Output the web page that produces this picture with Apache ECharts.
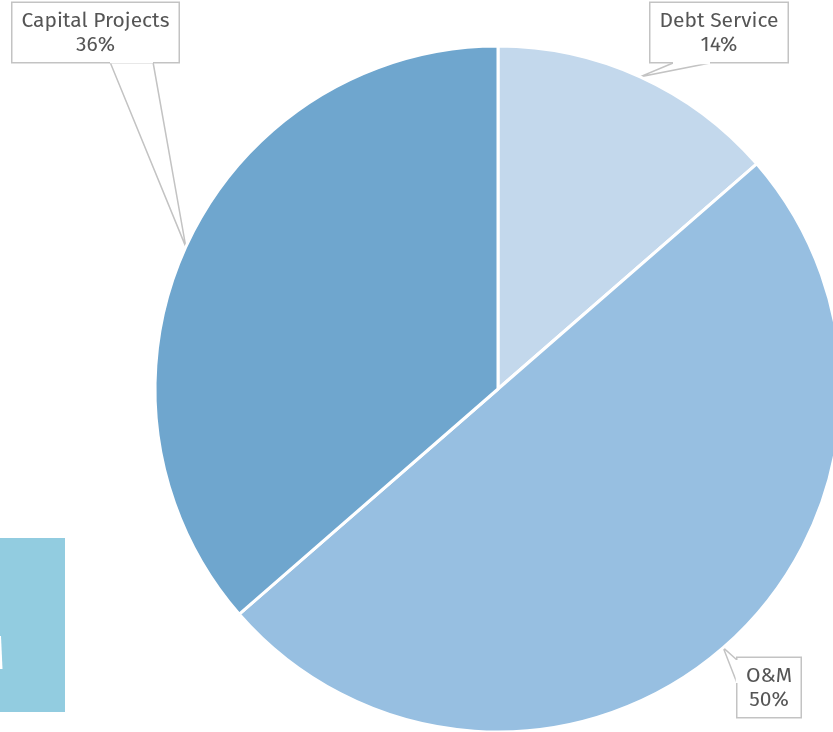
<!DOCTYPE html>
<html>
<head>
<meta charset="utf-8">
<script src="https://cdn.jsdelivr.net/npm/echarts@6/dist/echarts.min.js"></script>
<style>
html,body{margin:0;padding:0;background:#fff;}
#c{width:833px;height:732px;}
</style>
</head>
<body>
<div id="c"></div>
<script>
// ---- data ----
const categories = ['Debt Service', 'O&M', 'Capital Projects'];
const values = [13.6, 50.0, 36.4];
const sliceColors = ['#c3d8ec', '#97bfe1', '#6fa6ce'];

// ---- layout (label boxes: centre x, top y, inner text width; tail base points) ----
const labelBoxes = [
  { x: 719, y: 3, w: 121, bases: [[673, 63], [710, 63]] },
  { x: 769, y: 658, w: 47, bases: [[737, 660], [737, 683]] },
  { x: 95.5, y: 3, w: 150, bases: [[110, 62], [153, 62]] }
];
const CX = 498, CY = 389, R = 343;
const FONT = '"Fira Sans", "Open Sans", "Noto Sans", sans-serif';
const GUIDE = '#c3c3c3';

const chart = echarts.init(document.getElementById('c'), null, { renderer: 'canvas' });

function tipFor(i) {
  const total = values.reduce((a, b) => a + b, 0);
  let before = 0;
  for (let k = 0; k < i; k++) before += values[k];
  const mid = (before + values[i] / 2) / total * Math.PI * 2;
  return [CX + R * Math.sin(mid), CY - R * Math.cos(mid)];
}

const coverLines = labelBoxes.map(b => ({
  type: 'line',
  z: 100,
  shape: { x1: b.bases[0][0], y1: b.bases[0][1], x2: b.bases[1][0], y2: b.bases[1][1] },
  style: { stroke: '#fff', lineWidth: 2.5 }
}));

chart.setOption({
  animation: false,
  graphic: [
    { type: 'rect', z: 0, shape: { x: 0, y: 538, width: 65, height: 174 }, style: { fill: '#92cce0' } },
    { type: 'polygon', z: 1, shape: { points: [[0, 636], [1, 636], [2.5, 669], [0, 669]] }, style: { fill: '#ffffff' } }
  ].concat(coverLines),
  series: [{
    type: 'pie',
    center: [CX, CY],
    radius: R,
    startAngle: 90,
    clockwise: true,
    percentPrecision: 0,
    data: categories.map((n, i) => ({
      name: n,
      value: values[i],
      itemStyle: { color: sliceColors[i] }
    })),
    itemStyle: { borderColor: '#fff', borderWidth: 3 },
    emphasis: { disabled: true },
    label: {
      show: true,
      position: 'outside',
      formatter: '{b}\n{d}%',
      fontFamily: FONT,
      fontSize: 21,
      lineHeight: 24,
      color: '#555555',
      align: 'center',
      overflow: 'none',
      backgroundColor: '#ffffff',
      borderColor: GUIDE,
      borderWidth: 1.5,
      padding: [6, 8, 5, 8]
    },
    labelLine: {
      show: true,
      length: 10,
      length2: 10,
      lineStyle: { color: GUIDE, width: 1.5 }
    },
    labelLayout: function (p) {
      const b = labelBoxes[p.dataIndex];
      const tip = tipFor(p.dataIndex);
      return {
        x: b.x,
        y: b.y,
        width: b.w,
        align: 'center',
        verticalAlign: 'top',
        labelLinePoints: [b.bases[0], tip, b.bases[1]]
      };
    }
  }]
});
</script>
</body>
</html>
